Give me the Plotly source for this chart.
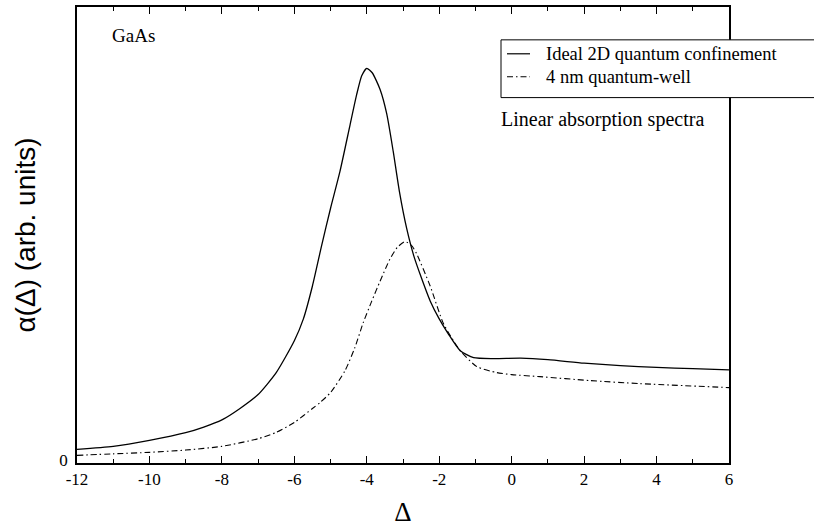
import plotly.graph_objects as go

# Ideal 2D quantum confinement (solid)
x_ideal = [-12, -11, -10, -9, -8.5, -8, -7.5, -7, -6.5, -6, -5.75, -5.5, -5.25, -5, -4.74, -4.46,
           -4.28, -4.14, -4.0, -3.85, -3.63, -3.45, -3.27, -3.1, -2.9, -2.7, -2.5, -2.25,
           -2.0, -1.75, -1.42, -1.05, -0.5, 0.25, 1, 2, 3, 4, 5, 6]
y_ideal = [2.99, 3.65, 4.96, 6.64, 7.87, 9.44, 11.95, 15.01, 19.82, 26.81, 31.61, 38.82, 47.56, 55.87,
           63.95, 74.22, 80.77, 84.93, 86.56, 85.58, 81.87, 76.62, 68.32, 59.58, 51.50, 45.38,
           40.79, 35.55, 31.61, 28.34, 24.62, 23.09, 22.88, 22.98, 22.66, 21.89, 21.35, 20.95,
           20.69, 20.41]

# 4 nm quantum-well (dash-dot)
x_qw = [-12, -11, -10, -9, -8, -7, -6.5, -6, -5.5, -5.29, -5.0, -4.6, -4.33, -4.1, -3.86, -3.63,
        -3.36, -3.15, -2.94, -2.75, -2.62, -2.25, -1.88, -1.42, -0.96, -0.41, 0, 0.78, 2.16,
        3.54, 6]
y_qw = [1.68, 2.01, 2.34, 2.84, 3.65, 5.33, 6.71, 8.89, 11.95, 13.26, 15.45, 20.25, 25.28, 30.74,
        35.55, 39.92, 44.72, 47.35, 48.55, 47.56, 45.82, 38.82, 30.52, 24.62, 21.13, 19.82,
        19.38, 18.94, 18.07, 17.41, 16.54]

series_names = ["Ideal 2D quantum confinement", "4 nm quantum-well"]

x_ticks = [-12, -10, -8, -6, -4, -2, 0, 2, 4, 6]
x_tick_labels = ["-12", "-10", "-8", "-6", "-4", "-2", "0", "2", "4", "6"]

serif = "Liberation Serif"
sans = "Liberation Sans"
dashdot = "6px,3px,1.5px,3px"

fig = go.Figure()
fig.add_trace(go.Scatter(x=x_ideal, y=y_ideal, mode="lines", name=series_names[0],
                         line=dict(color="black", width=1.3, shape="spline", smoothing=0.6)))
fig.add_trace(go.Scatter(x=x_qw, y=y_qw, mode="lines", name=series_names[1],
                         line=dict(color="black", width=1.1, dash=dashdot,
                                   shape="spline", smoothing=0.6)))

# legend drawn as a box with samples (positions in paper coordinates)
def px2x(px):
    return (px - 77) / 652.0

def py2y(py):
    return (463 - py) / 458.0

row1, row2 = 52, 75

shapes = [
    dict(type="rect", xref="paper", yref="paper", layer="above",
         x0=px2x(501), x1=px2x(830), y0=py2y(96), y1=py2y(38),
         line=dict(color="black", width=1), fillcolor="white"),
    dict(type="line", xref="paper", yref="paper", layer="above",
         x0=px2x(507), x1=px2x(530), y0=py2y(row1), y1=py2y(row1),
         line=dict(color="black", width=1.2)),
    dict(type="line", xref="paper", yref="paper", layer="above",
         x0=px2x(507), x1=px2x(530), y0=py2y(row2), y1=py2y(row2),
         line=dict(color="black", width=1.1, dash=dashdot)),
]

annotations = [
    dict(text=series_names[0], x=px2x(545), y=py2y(row1), xref="paper", yref="paper",
         xanchor="left", yanchor="middle", showarrow=False, borderpad=0,
         font=dict(family=serif, size=18.5)),
    dict(text=series_names[1], x=px2x(545), y=py2y(row2), xref="paper", yref="paper",
         xanchor="left", yanchor="middle", showarrow=False, borderpad=0,
         font=dict(family=serif, size=18.5)),
    dict(text="GaAs", x=px2x(110), y=py2y(34), xref="paper", yref="paper",
         xanchor="left", yanchor="middle", showarrow=False,
         font=dict(family=serif, size=19)),
    dict(text="Linear absorption spectra", x=px2x(499), y=py2y(118), xref="paper", yref="paper",
         xanchor="left", yanchor="middle", showarrow=False,
         font=dict(family=serif, size=20)),
]

fig.update_layout(
    width=814, height=529,
    margin=dict(l=77, r=85, t=5, b=66),
    paper_bgcolor="white", plot_bgcolor="white",
    font=dict(family=serif, size=17, color="black"),
    showlegend=False,
    xaxis=dict(range=[-12, 6], tickvals=x_ticks, ticktext=x_tick_labels,
               ticks="inside", ticklen=7, tickwidth=1, tickcolor="black",
               minor=dict(dtick=1, ticks="inside", ticklen=4, tickwidth=1, tickcolor="black"),
               showline=True, linecolor="black", linewidth=1.5, mirror="allticks",
               showgrid=False, zeroline=False,
               tickfont=dict(family=serif, size=17),
               title=dict(text="Δ", font=dict(family=serif, size=27), standoff=14)),
    yaxis=dict(range=[0, 100], tickvals=[0], ticktext=["0"], ticks="",
               showline=True, linecolor="black", linewidth=1.5, mirror=True,
               showgrid=False, zeroline=False, ticklabelshift=-3, ticklabelstandoff=4,
               tickfont=dict(family=serif, size=17),
               title=dict(text="α(Δ) (arb. units)", font=dict(family=sans, size=28), standoff=16)),
    shapes=shapes,
    annotations=annotations,
)

fig.write_html("out.html")
